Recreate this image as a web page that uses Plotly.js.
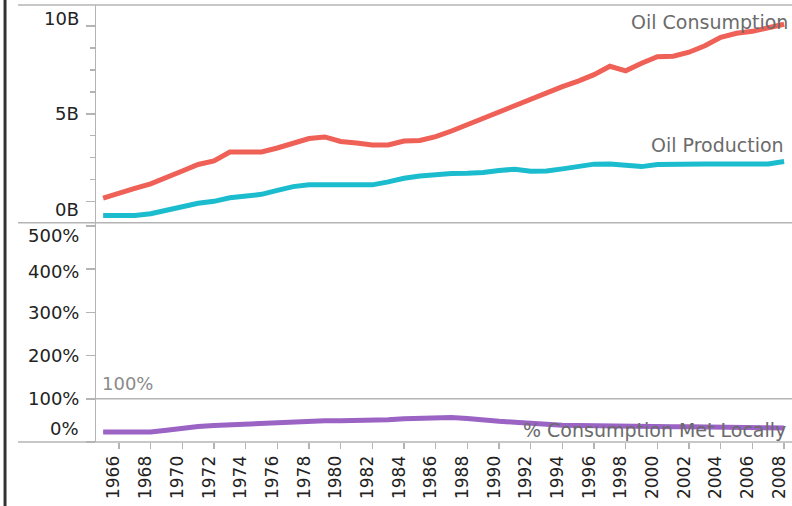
<!DOCTYPE html>
<html>
<head>
<meta charset="utf-8">
<script src="https://cdn.plot.ly/plotly-3.0.1.min.js"></script>
<style>html,body{margin:0;padding:0;background:#fff;}#chart{width:792px;height:506px;}</style>
</head>
<body>
<div id="chart"></div>
<script>
// ---- data ----
const years = [1965,1966,1967,1968,1969,1970,1971,1972,1973,1974,1975,1976,1977,1978,1979,1980,1981,1982,1983,1984,1985,1986,1987,1988,1989,1990,1991,1992,1993,1994,1995,1996,1997,1998,1999,2000,2001,2002,2003,2004,2005,2006,2007,2008];
// billions
const oilConsumption = [0.19,0.49,0.75,1.01,1.35,1.74,2.11,2.31,2.82,2.82,2.82,3.05,3.31,3.59,3.68,3.42,3.34,3.22,3.22,3.45,3.48,3.70,4.02,4.39,4.70,5.07,5.47,5.81,6.18,6.55,6.86,7.23,7.71,7.45,7.88,8.25,8.28,8.51,8.88,9.36,9.59,9.70,9.90,10.10];
const oilProduction = [-0.80,-0.80,-0.80,-0.70,-0.47,-0.30,-0.10,0.01,0.21,0.30,0.41,0.64,0.85,0.95,0.95,0.95,0.95,0.95,1.12,1.33,1.46,1.55,1.60,1.61,1.65,1.77,1.84,1.72,1.74,1.86,2.03,2.13,2.14,2.09,1.99,2.11,2.14,2.14,2.14,2.14,2.14,2.14,2.14,2.28];
// percent
const pctMetLocally = [23.0,23.0,23.0,23.0,27.2,31.8,35.7,38.0,39.9,41.5,42.2,45.7,48.0,49.1,49.1,49.1,49.1,49.1,51.4,53.8,55.4,56.1,56.5,54.5,50.3,48.0,45.7,42.7,40.3,38.7,38.0,37.1,36.4,35.7,35.3,35.3,35.3,35.3,35.3,34.8,34.1,33.4,32.9,32.3];

const seriesNames = ['Oil Consumption','Oil Production','% Consumption Met Locally'];
const topTickVals = [0,5,10];
const topTickText = ['0B','5B','10B'];
const botTickVals = [0,100,200,300,400,500];
const botTickText = ['0%','100%','200%','300%','400%','500%'];
const referenceValue = 100;
const referenceText = '100%';

// ---- styles ----
const FONT = 'DejaVu Sans, Arial, sans-serif';
const colors = ['#ef6057','#1cbccf','#9a63c4'];
const axisGray = '#b4b4b4';
const topLabelShift = [-8, 0, 8];
const botLabelShift = [13, 0, 0, 0, -2, -10];

const traces = [
  {x: years, y: oilConsumption, name: seriesNames[0], type: 'scatter', mode: 'lines',
   line: {color: colors[0], width: 5}, xaxis: 'x', yaxis: 'y'},
  {x: years, y: oilProduction, name: seriesNames[1], type: 'scatter', mode: 'lines',
   line: {color: colors[1], width: 5}, xaxis: 'x', yaxis: 'y'},
  {x: years, y: pctMetLocally, name: seriesNames[2], type: 'scatter', mode: 'lines',
   line: {color: colors[2], width: 5}, xaxis: 'x', yaxis: 'y2'}
];

const split = 0.5017;
const annotations = [];
topTickVals.forEach((v, i) => annotations.push({
  xref: 'paper', yref: 'y', x: 0, y: v, xanchor: 'right', yanchor: 'middle',
  xshift: -15, yshift: topLabelShift[i], text: topTickText[i], showarrow: false,
  font: {family: FONT, size: 18, color: '#222'}
}));
botTickVals.forEach((v, i) => annotations.push({
  xref: 'paper', yref: 'y2', x: 0, y: v, xanchor: 'right', yanchor: 'middle',
  xshift: -15, yshift: botLabelShift[i], text: botTickText[i], showarrow: false,
  font: {family: FONT, size: 18, color: '#222'}
}));
// series labels
annotations.push({xref: 'paper', yref: 'paper', x: 1, y: 0.961, xanchor: 'right', yanchor: 'middle',
  xshift: -2, text: seriesNames[0], showarrow: false, font: {family: FONT, size: 19, color: '#6b6b6b'}});
annotations.push({xref: 'paper', yref: 'paper', x: 1, y: 0.680, xanchor: 'right', yanchor: 'middle',
  xshift: -6, text: seriesNames[1], showarrow: false, font: {family: FONT, size: 19, color: '#6b6b6b'}});
annotations.push({xref: 'paper', yref: 'paper', x: 1, y: 0.028, xanchor: 'right', yanchor: 'middle',
  xshift: -4, text: seriesNames[2], showarrow: false, font: {family: FONT, size: 19, color: '#6b6b6b'}});
annotations.push({xref: 'paper', yref: 'y2', x: 0, y: referenceValue, xanchor: 'left', yanchor: 'bottom',
  xshift: 4, yshift: 3, text: referenceText, showarrow: false, font: {family: FONT, size: 18, color: '#8a8a8a'}});

const shapes = [
  // left frame line
  {type: 'line', xref: 'paper', yref: 'paper', x0: -0.1307, x1: -0.1307, y0: -0.16, y1: 1.02,
   line: {color: '#333', width: 3}},
  // horizontal frame lines
  {type: 'line', xref: 'paper', yref: 'paper', x0: -0.112, x1: 1, y0: 1, y1: 1, line: {color: axisGray, width: 1.5}},
  {type: 'line', xref: 'paper', yref: 'paper', x0: -0.112, x1: 1, y0: split, y1: split, line: {color: axisGray, width: 1.5}},
  {type: 'line', xref: 'paper', yref: 'paper', x0: -0.112, x1: 1, y0: 0, y1: 0, line: {color: axisGray, width: 1.5}},
  // 100% reference line
  {type: 'line', xref: 'paper', yref: 'y2', x0: -0.014, x1: 1, y0: referenceValue, y1: referenceValue,
   line: {color: axisGray, width: 1.5}}
];

const layout = {
  width: 792, height: 506,
  margin: {l: 96, r: 0, t: 5, b: 63.5},
  paper_bgcolor: '#fff', plot_bgcolor: '#fff',
  showlegend: false,
  font: {family: FONT, size: 18, color: '#222'},
  xaxis: {
    range: [1964.55, 2008.5], anchor: 'y2', tickmode: 'linear', tick0: 1966, dtick: 2,
    ticks: 'outside', ticklen: 6, tickcolor: axisGray, tickwidth: 1.5, tickangle: -90,
    ticklabeloverflow: 'allow', ticklabelshift: -5,
    showgrid: false, zeroline: false, showline: false,
    tickfont: {family: FONT, size: 17, color: '#222'}
  },
  yaxis: {
    domain: [split, 1], range: [-1.21, 11.2], tickmode: 'linear', tick0: 0, dtick: 5,
    ticks: 'outside', ticklen: 9, tickcolor: axisGray, tickwidth: 1.5, showticklabels: false,
    minor: {ticks: 'outside', ticklen: 5, tickcolor: axisGray, tickwidth: 1.5, dtick: 1.25, tick0: 0, showgrid: false},
    showgrid: false, zeroline: false, showline: true, linecolor: axisGray, linewidth: 1.5
  },
  yaxis2: {
    domain: [0, split], range: [0, 507], tickmode: 'linear', tick0: 0, dtick: 100,
    ticks: 'outside', ticklen: 9, tickcolor: axisGray, tickwidth: 1.5, showticklabels: false,
    showgrid: false, zeroline: false, showline: true, linecolor: axisGray, linewidth: 1.5
  },
  annotations: annotations,
  shapes: shapes
};

Plotly.newPlot('chart', traces, layout, {displayModeBar: false, staticPlot: true});
</script>
</body>
</html>
